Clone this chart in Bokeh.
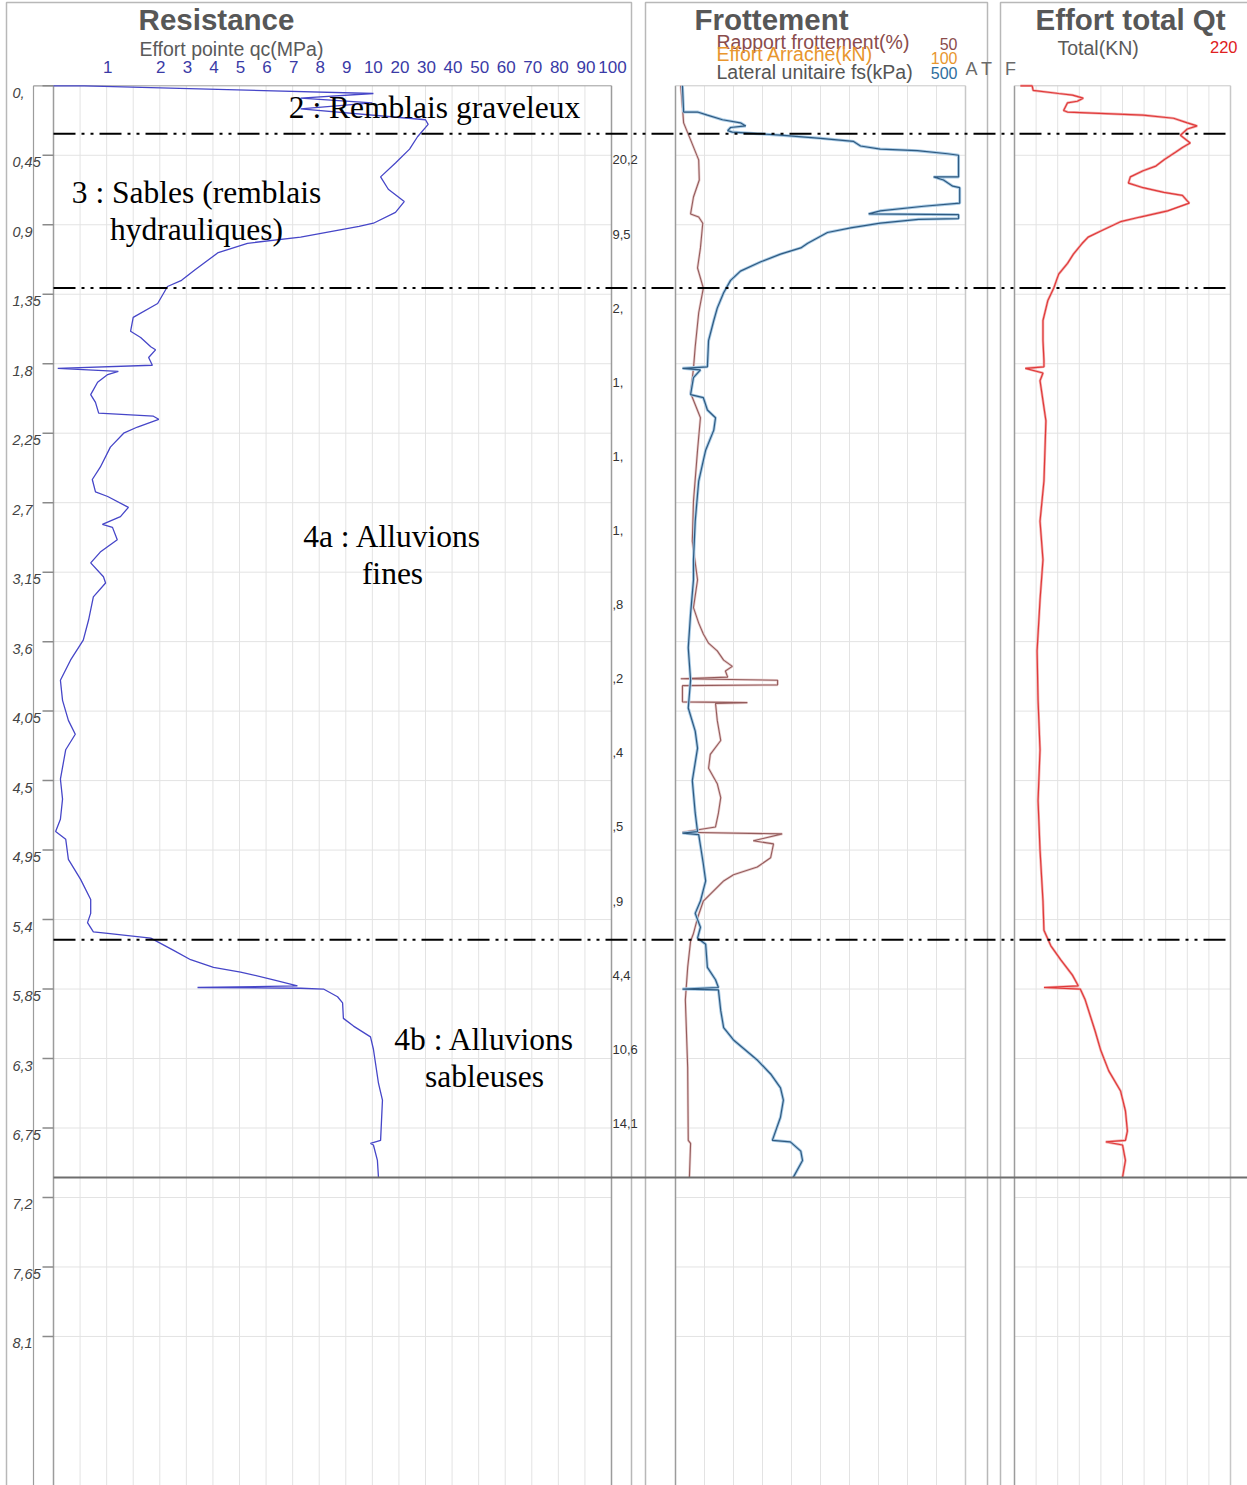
import numpy as np
from bokeh.plotting import figure
from bokeh.models import Range1d
from bokeh.core.properties import value
from bokeh.embed import file_html
from bokeh.resources import INLINE

# ---------------- data ----------------
depth_ticks = [0.0, 0.45, 0.9, 1.35, 1.8, 2.25, 2.7, 3.15, 3.6, 4.05, 4.5, 4.95,
               5.4, 5.85, 6.3, 6.75, 7.2, 7.65, 8.1]
depth_labels = ["0,", "0,45", "0,9", "1,35", "1,8", "2,25", "2,7", "3,15", "3,6", "4,05",
                "4,5", "4,95", "5,4", "5,85", "6,3", "6,75", "7,2", "7,65", "8,1"]

qc_ticks = [1, 2, 3, 4, 5, 6, 7, 8, 9, 10, 20, 30, 40, 50, 60, 70, 80, 90, 100]
qc_tick_labels = ["1", "2", "3", "4", "5", "6", "7", "8", "9", "10", "20", "30", "40",
                  "50", "60", "70", "80", "90", "100"]
qc_grid = [0, 0.5, 1, 1.5, 2, 3, 4, 5, 6, 7, 8, 9, 10, 20, 30, 40, 50, 60, 70, 80, 90, 100]
qc_breaks_val = [0, 2, 10, 100]
qc_breaks_unit = [0, 4, 12, 21]

fs_grid = [0, 50, 100, 150, 200, 250, 300, 350, 400, 450, 500]
qt_grid = [0, 22, 44, 66, 88, 110, 132, 154, 176, 198, 220]

# cone resistance qc (MPa) vs depth (m)
qc_depth = [0.00, 0.00, 0.05, 0.08, 0.11, 0.15, 0.22, 0.25, 0.33, 0.41, 0.50, 0.59, 0.67,
            0.75, 0.82, 0.89, 0.91, 0.98, 1.02, 1.08, 1.19, 1.26, 1.30, 1.41, 1.50, 1.59,
            1.63, 1.69, 1.71, 1.76, 1.81, 1.83, 1.85, 1.87, 1.92, 2.00, 2.05, 2.12, 2.14,
            2.16, 2.21, 2.25, 2.34, 2.47, 2.55, 2.63, 2.66, 2.73, 2.79, 2.84, 2.86, 2.94,
            3.02, 3.09, 3.18, 3.22, 3.31, 3.46, 3.59, 3.72, 3.85, 3.98, 4.11, 4.20, 4.30,
            4.49, 4.62, 4.75, 4.83, 4.88, 5.01, 5.14, 5.27, 5.36, 5.42, 5.48, 5.49, 5.52,
            5.60, 5.66, 5.71, 5.74, 5.79, 5.83, 5.84, 5.845, 5.85, 5.90, 5.94, 6.04, 6.09,
            6.16, 6.24, 6.46, 6.57, 6.83, 6.85, 6.86, 6.96, 7.07]
qc_mpa = [0.0, 0.58, 10.4, 7.3, 10.0, 7.3, 30, 31, 27, 24, 18.7, 13.1, 16,
          22, 18.7, 10.4, 9.5, 7.3, 5.3, 4.2, 3.34, 2.82, 2.29, 1.96, 1.5, 1.45,
          1.64, 1.83, 1.92, 1.79, 1.86, 0.08, 1.22, 1.02, 0.83, 0.70, 0.79, 0.85, 1.88,
          1.98, 1.58, 1.32, 1.07, 0.88, 0.73, 0.79, 1.02, 1.41, 1.26, 0.92, 1.11, 1.20,
          0.88, 0.70, 0.94, 0.98, 0.75, 0.66, 0.56, 0.32, 0.13, 0.17, 0.28, 0.41, 0.23,
          0.13, 0.17, 0.13, 0.04, 0.23, 0.28, 0.51, 0.70, 0.70, 0.64, 0.75, 1.02, 1.83,
          2.52, 3.16, 4.02, 5.04, 6.28, 7.18, 3.42, 7.3, 8.16, 8.69, 8.88, 8.91, 9.29,
          9.93, 10.4, 12.3, 13.8, 13.1, 9.93, 10.4, 11.9, 12.3]

# lateral unit friction fs (kPa)
fs_depth = [0.00, 0.17, 0.17, 0.19, 0.22, 0.24, 0.26, 0.27, 0.29, 0.30, 0.31, 0.32, 0.34,
            0.36, 0.39, 0.41, 0.42, 0.44, 0.45, 0.59, 0.59, 0.61, 0.65, 0.66, 0.76, 0.78,
            0.81, 0.83, 0.835, 0.86, 0.865, 0.89, 0.92, 0.95, 1.02, 1.05, 1.09, 1.14, 1.20,
            1.26, 1.34, 1.44, 1.52, 1.65, 1.82, 1.83, 1.84, 1.89, 2.00, 2.02, 2.10, 2.15,
            2.23, 2.36, 2.56, 2.82, 3.07, 3.20, 3.42, 3.64, 3.85, 4.03, 4.18, 4.29, 4.50,
            4.71, 4.83, 4.84, 4.85, 5.04, 5.15, 5.28, 5.36, 5.45, 5.52, 5.56, 5.71, 5.79,
            5.84, 5.85, 5.855, 5.99, 6.10, 6.18, 6.31, 6.40, 6.49, 6.57, 6.68, 6.83, 6.84,
            6.90, 6.96, 7.07]
fs_kpa = [12, 14, 38, 55, 81, 112, 121, 95, 90, 98, 141, 181, 250,
          307, 319, 353, 417, 469, 488, 488, 445, 462, 478, 490, 490, 428,
          353, 333, 488, 488, 419, 353, 302, 262, 228, 216, 181, 147, 112,
          95, 83, 72, 66, 57, 55, 12, 43, 31, 26, 48, 55, 69,
          66, 52, 40, 34, 31, 31, 26, 22, 26, 22, 34, 38, 29,
          34, 38, 12, 40, 48, 52, 43, 34, 43, 38, 52, 55, 69,
          74, 12, 74, 78, 83, 100, 141, 164, 181, 186, 181, 167, 198,
          216, 219, 203]

# friction ratio Rf (%)
rf_depth = [0.00, 0.14, 0.24, 0.35, 0.48, 0.61, 0.72, 0.83, 0.85, 0.89, 1.05, 1.18, 1.31,
            1.47, 1.69, 1.83, 1.99, 2.15, 2.36, 2.69, 2.95, 3.20, 3.38, 3.48, 3.55, 3.61,
            3.66, 3.72, 3.76, 3.79, 3.83, 3.84, 3.85, 3.88, 3.885, 3.99, 3.995, 4.00, 4.11,
            4.24, 4.33, 4.42, 4.52, 4.61, 4.71, 4.80, 4.835, 4.845, 4.89, 4.91, 5.00, 5.06,
            5.11, 5.15, 5.28, 5.39, 5.49, 5.54, 5.71, 5.92, 6.36, 6.83, 6.85, 7.07]
rf_pct = [0.9, 1.2, 1.4, 2.6, 4.0, 4.1, 3.1, 2.6, 4.0, 4.7, 4.3, 3.8, 4.8,
          4.0, 3.4, 3.1, 2.6, 4.3, 3.8, 3.1, 2.9, 3.8, 3.1, 4.0, 4.8, 5.7,
          7.2, 8.3, 9.8, 8.6, 9.0, 0.9, 17.6, 17.6, 1.2, 1.2, 12.4, 6.9, 7.2,
          7.8, 6.0, 5.7, 7.2, 7.8, 7.4, 6.9, 1.2, 18.4, 13.4, 16.9, 16.4, 14.1,
          10.0, 8.3, 4.8, 3.8, 3.1, 2.6, 2.1, 1.7, 2.1, 2.2, 2.6, 2.4]

# total effort Qt (kN)
qt_depth = [0.00, 0.00, 0.03, 0.05, 0.06, 0.08, 0.10, 0.11, 0.16, 0.17, 0.19, 0.21, 0.24,
            0.26, 0.28, 0.32, 0.37, 0.40, 0.43, 0.48, 0.52, 0.55, 0.59, 0.63, 0.66, 0.69,
            0.71, 0.76, 0.81, 0.85, 0.88, 0.94, 0.98, 1.02, 1.09, 1.15, 1.22, 1.31, 1.39,
            1.52, 1.65, 1.78, 1.82, 1.83, 1.86, 1.91, 2.17, 2.56, 2.82, 3.07, 3.33, 3.66,
            3.98, 4.30, 4.63, 4.95, 5.28, 5.47, 5.57, 5.66, 5.76, 5.83, 5.84, 5.85, 5.92,
            6.12, 6.25, 6.38, 6.51, 6.64, 6.77, 6.83, 6.84, 6.86, 6.96, 7.07]
qt_kn = [6, 18, 19, 45, 59, 70, 64, 54, 50, 54, 131, 162, 176,
         186, 176, 169, 179, 171, 164, 152, 144, 131, 118, 116, 131, 152,
         171, 178, 156, 128, 108, 88, 75, 69, 60, 54, 45, 40, 34,
         29, 29, 30, 30, 11, 29, 26, 32, 30, 26, 29, 26, 23,
         24, 26, 24, 26, 29, 30, 37, 47, 59, 65, 30, 67, 72,
         82, 88, 96, 108, 113, 115, 113, 93, 110, 113, 110]

# soil layers
layer_bounds = [0.31, 1.31, 5.53]
end_of_test = 7.07

# truncated ratio values printed beside the resistance track
side_depth = [0.48, 0.96, 1.44, 1.92, 2.40, 2.88, 3.36, 3.84, 4.32, 4.80, 5.28, 5.76, 6.24, 6.72]
side_text = ["20,2", "9,5", "2,", "1,", "1,", "1,", ",8", ",2", ",4", ",5", ",9", "4,4", "10,6", "14,1"]

# ---------------- layout ----------------
W, H = 1247, 1485
Y0, PPM = 85.3, 154.4
D_TOP = -Y0 / PPM
D_BOT = (H - Y0) / PPM

L_X0, L_X1 = 53, 611
M_X0, M_X1 = 675, 965
R_X0, R_X1 = 1014, 1230

SANS = "Liberation Sans"
SERIF = "Liberation Serif"


def lin_range(px0, px1, v0, v1):
    k = (v1 - v0) / (px1 - px0)
    return Range1d(start=v0 - px0 * k, end=v0 + (W - px0) * k)


def qc_to_u(v):
    return list(np.interp(np.asarray(v, dtype=float), qc_breaks_val, qc_breaks_unit))


p = figure(width=W, height=H, x_range=Range1d(0, W), y_range=Range1d(D_BOT, D_TOP),
           output_backend="svg", toolbar_location=None, min_border=0,
           x_axis_type=None, y_axis_type=None, outline_line_color=None,
           background_fill_color="white", border_fill_color="white")
p.extra_x_ranges = {
    "qc": lin_range(L_X0, L_X1, 0, 21),
    "fs": lin_range(M_X0, M_X1, 0, 500),
    "rf": lin_range(M_X0, M_X1, 0, 50),
    "qt": lin_range(R_X0, R_X1, 0, 220),
}
p.extra_y_ranges = {"py": Range1d(H, 0)}

GRID = "#e3e3e3"
EDGE = "#9c9c9c"
BORDER = "#b8b8b8"

# panel borders
p.multi_line(xs=[[6, 6, 631, 631], [645, 645, 987, 987], [1000, 1000, W]],
             ys=[[H, 2, 2, H], [H, 2, 2, H], [H, 2, 2]],
             y_range_name="py", line_color=BORDER, line_width=1.5)

# vertical grids
u_grid = qc_to_u(qc_grid)
n = len(u_grid)
p.segment(x0=u_grid, x1=u_grid, y0=[0] * n, y1=[D_BOT] * n, x_range_name="qc",
          line_color=GRID, line_width=1)
p.segment(x0=fs_grid, x1=fs_grid, y0=[0] * len(fs_grid), y1=[D_BOT] * len(fs_grid),
          x_range_name="fs", line_color=GRID, line_width=1)
p.segment(x0=qt_grid, x1=qt_grid, y0=[0] * len(qt_grid), y1=[D_BOT] * len(qt_grid),
          x_range_name="qt", line_color=GRID, line_width=1)

# horizontal grids
hd = depth_ticks[1:]
m = len(hd)
p.segment(x0=[0] * m, x1=[21] * m, y0=hd, y1=hd, x_range_name="qc", line_color=GRID)
p.segment(x0=[0] * m, x1=[500] * m, y0=hd, y1=hd, x_range_name="fs", line_color=GRID)
p.segment(x0=[0] * m, x1=[220] * m, y0=hd, y1=hd, x_range_name="qt", line_color=GRID)

# track edges
p.segment(x0=[0, 21], x1=[0, 21], y0=[0, 0], y1=[D_BOT, D_BOT], x_range_name="qc",
          line_color=EDGE, line_width=1.5)
p.segment(x0=[0, 500], x1=[0, 500], y0=[0, 0], y1=[D_BOT, D_BOT], x_range_name="fs",
          line_color=[EDGE, "#c8c8c8"], line_width=1.5)
p.segment(x0=[0, 220], x1=[0, 220], y0=[0, 0], y1=[D_BOT, D_BOT], x_range_name="qt",
          line_color=[EDGE, "#c8c8c8"], line_width=1.5)
p.segment(x0=[0], x1=[21], y0=[0], y1=[0], x_range_name="qc", line_color=EDGE, line_width=1)
p.segment(x0=[0], x1=[500], y0=[0], y1=[0], x_range_name="fs", line_color="#c8c8c8", line_width=1)
p.segment(x0=[0], x1=[220], y0=[0], y1=[0], x_range_name="qt", line_color="#c8c8c8", line_width=1)

# depth axis
p.segment(x0=[33, 33], x1=[33, L_X0], y0=[0, 0], y1=[D_BOT, 0], line_color=EDGE, line_width=1.2)
k = len(depth_ticks)
p.segment(x0=[42] * k, x1=[L_X0] * k, y0=depth_ticks, y1=depth_ticks,
          line_color="#8a8a8a", line_width=1.5)
p.text(x=[12] * k, y=depth_ticks, text=depth_labels, y_offset=7,
       text_font=value(SANS), text_font_size="14.5px", text_font_style="italic",
       text_color="#444444", text_align="left", text_baseline="middle")

# side truncated values
p.text(x=[612] * len(side_depth), y=side_depth, text=side_text,
       text_font=value(SANS), text_font_size="13px", text_color="#333333",
       text_align="left", text_baseline="middle")

# curves
p.line(x=qc_to_u(qc_mpa), y=qc_depth, x_range_name="qc", line_color="#4646c8", line_width=1.3)
p.line(x=rf_pct, y=rf_depth, x_range_name="rf", line_color="#ead0d0", line_width=2.6)
p.line(x=rf_pct, y=rf_depth, x_range_name="rf", line_color="#945c5c", line_width=1.1)
p.line(x=fs_kpa, y=fs_depth, x_range_name="fs", line_color="#a9cbe6", line_width=3)
p.line(x=fs_kpa, y=fs_depth, x_range_name="fs", line_color="#2f5a80", line_width=1.2)
p.line(x=qt_kn, y=qt_depth, x_range_name="qt", line_color="#f3b0b0", line_width=2.6)
p.line(x=qt_kn, y=qt_depth, x_range_name="qt", line_color="#e03a3a", line_width=1.2)

# layer boundaries and end of test
nb = len(layer_bounds)
p.segment(x0=[L_X0] * nb, x1=[R_X1] * nb, y0=layer_bounds, y1=layer_bounds,
          line_color="black", line_width=2, line_dash="22 6 3 6 3 6")
p.segment(x0=[L_X0], x1=[W], y0=[end_of_test], y1=[end_of_test],
          line_color="#6e6e6e", line_width=2)


def txt(x, y, s, size, color, align="left", style="normal", font=SANS, xr="default"):
    p.text(x=[x], y=[y], text=[s], text_font=value(font), text_font_size=f"{size}px",
           text_color=color, text_align=align, text_baseline="middle",
           text_font_style=style, x_range_name=xr, y_range_name="py")


# headers
TITLE = "#575757"
HSZ = 29.5
SSZ = 19.5
txt(216, 19, "Resistance", HSZ, TITLE, "center", "bold")
txt(139, 48, "Effort pointe qc(MPa)", SSZ, "#5a5a5a")
p.text(x=qc_to_u(qc_ticks), y=[66] * len(qc_ticks), text=qc_tick_labels, x_offset=1,
       x_range_name="qc", y_range_name="py", text_font=value(SANS),
       text_font_size="17px", text_color="#3a3aa6", text_align="center",
       text_baseline="middle")

txt(771, 19, "Frottement", HSZ, TITLE, "center", "bold")
txt(716, 41, "Rapport frottement(%)", SSZ, "#8a4c4c")
txt(716, 53, "Effort Arrache(kN)", SSZ, "#e8962e")
txt(716, 71, "Lateral unitaire fs(kPa)", SSZ, "#555555")
txt(957, 43, "50", 16, "#8a4c4c", "right")
txt(957, 57, "100", 16, "#e8962e", "right")
txt(957, 72, "500", 16, "#2e6ea0", "right")
txt(971, 68, "A", 18, "#6a6a6a", "center")
txt(986, 68, "T", 18, "#6a6a6a", "center")
txt(1010, 68, "F", 18, "#6a6a6a", "center")

txt(1130, 19, "Effort total Qt", HSZ, TITLE, "center", "bold")
txt(1057, 47, "Total(KN)", SSZ, "#5a5a5a")
txt(1237, 46, "220", 16.5, "#e02020", "right")

# layer names
LBL = 31.5
txt(434, 107, "2 : Remblais graveleux", LBL, "black", "center", font=SERIF)
txt(196, 192, "3 : Sables (remblais", LBL, "black", "center", font=SERIF)
txt(196, 229, "hydrauliques)", LBL, "black", "center", font=SERIF)
txt(392, 536, "4a : Alluvions", LBL, "black", "center", font=SERIF)
txt(392, 573, "fines", LBL, "black", "center", font=SERIF)
txt(484, 1039, "4b : Alluvions", LBL, "black", "center", font=SERIF)
txt(484, 1076, "sableuses", LBL, "black", "center", font=SERIF)

open("out.html", "w").write(file_html(p, INLINE))
